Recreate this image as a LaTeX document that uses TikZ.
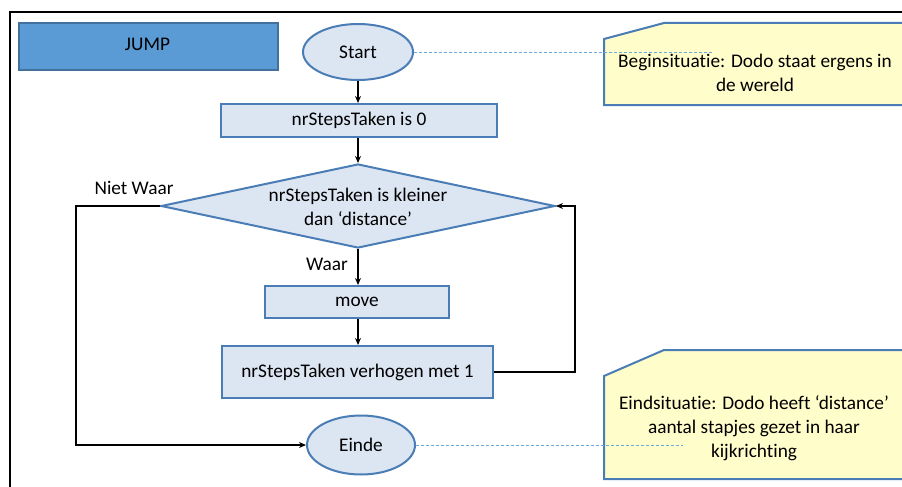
\documentclass[tikz,border=0pt]{standalone}
\usepackage{fontspec}
\setmainfont{Carlito}[Ligatures={NoCommon}]
\usetikzlibrary{shapes.geometric,arrows.meta}
\definecolor{boxfill}{HTML}{DCE6F2}
\definecolor{boxline}{HTML}{4A7DB5}
\definecolor{jumpfill}{HTML}{5B9BD5}
\definecolor{jumpline}{HTML}{41719C}
\definecolor{notefill}{HTML}{FFFDCA}
\definecolor{dashcol}{HTML}{6FA8DC}
\begin{document}
\begin{tikzpicture}[x=1pt,y=-1pt,
  every node/.style={font=\fontsize{19.3}{24}\selectfont},
  procbox/.style={draw=boxline,fill=boxfill,line width=2pt,rectangle,inner sep=0pt},
  term/.style={draw=boxline,fill=boxfill,line width=2pt,ellipse,inner sep=0pt},
  decision/.style={draw=boxline,fill=boxfill,line width=2pt,diamond,inner sep=0pt},
  notebox/.style={draw=boxline,fill=notefill,line width=2pt,line join=miter},
  conn/.style={draw=black,line width=2pt,-{Stealth[length=7pt,width=6pt]}},
  noteline/.style={draw=dashcol,line width=0.8pt,dash pattern=on 3pt off 2pt},
  frame/.style={draw=black,line width=2.8pt}]
\clip (0,0) rectangle (902,487);
\fill[white] (0,0) rectangle (902,487);
% frame
\draw[frame] (903,12) -- (10,12) -- (10,488);
% JUMP
\node[draw=jumpline,fill=jumpfill,line width=2pt,minimum width=259pt,minimum height=47pt,inner sep=0pt,anchor=north west] (jump) at (18,22) {};
\node (jumpt) at (147.5,44) {JUMP};
% notes
\draw[notebox] (604,39) -- (664,23) -- (912,23) -- (912,105) -- (604,105) -- cycle;
\node[align=center] (note1) at (755,73) {Beginsituatie: Dodo staat ergens in\\de wereld};
\draw[notebox] (604,376) -- (664,350) -- (912,350) -- (912,479) -- (604,479) -- cycle;
\node[align=center] (note2) at (754,428) {Eindsituatie: Dodo heeft ‘distance’\\aantal stapjes gezet in haar\\kijkrichting};
% flow nodes
\node[term,minimum width=110pt,minimum height=56pt] (start) at (358,52) {Start};
\node[procbox,minimum width=276pt,minimum height=33pt] (init) at (359,120.5) {nrStepsTaken is 0};
\node[decision,minimum width=394pt,minimum height=84pt] (dec) at (358,206) {};
\node[align=center] (dect) at (358,207) {nrStepsTaken is kleiner\\dan ‘distance’};
\node[procbox,minimum width=184pt,minimum height=32pt] (move) at (357,302) {move};
\node[procbox,minimum width=271pt,minimum height=52pt] (inc) at (357.5,372) {nrStepsTaken verhogen met 1};
\node[term,minimum width=108pt,minimum height=59pt] (einde) at (361,445) {Einde};
% labels
\node (waar) at (327,264) {Waar};
\node (niet) at (134,188) {Niet Waar};
% dashed note lines
\coordinate (n1) at (713,52);
\coordinate (n2) at (683,445);
\draw[noteline] (start.east) -- (n1);
\draw[noteline] (einde.east) -- (n2);
% connectors
\draw[conn] (start.south -| 358,0) -- (init.north -| 358,0);
\draw[conn] (init.south -| 358,0) -- (dec.north);
\draw[conn] (dec.south) -- (move.north -| 358,0);
\draw[conn] (move.south -| 358,0) -- (inc.north -| 358,0);
\coordinate (lc) at (76,206);
\draw[conn] (dec.west) -- (lc) |- (einde.west);
\coordinate (rc) at (575,372);
\draw[conn] (inc.east) -- (rc) |- (dec.east);
\end{tikzpicture}
\end{document}
